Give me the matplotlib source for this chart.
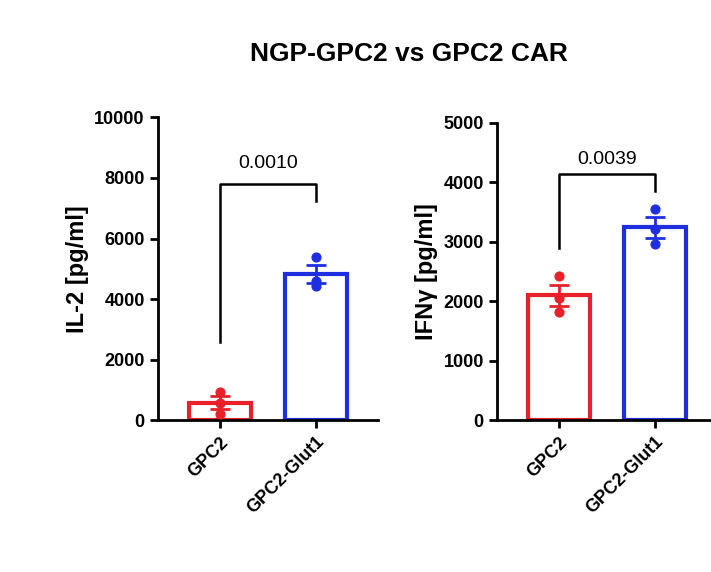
import numpy as np
import matplotlib
matplotlib.use("Agg")
import matplotlib.pyplot as plt
plt.rcParams["font.family"] = "Liberation Sans"

categories = ["GPC2", "GPC2-Glut1"]
il2_pts = [[950, 580, 220], [5400, 4600, 4450]]
ifn_pts = [[2430, 2050, 1830], [3560, 3220, 2960]]
colors = ["#e8202a", "#1f2fe0"]
title = "NGP-GPC2 vs GPC2 CAR"

fig = plt.figure(figsize=(7.11, 5.72), dpi=100)
fig.text(0.575, 0.905, title, ha="center", va="center", fontsize=19, fontweight="bold")

def panel(rect, pts, ylim, yticks, ylabel, pval, bracket, ptxt, leftend):
    ax = fig.add_axes(rect)
    x = np.arange(len(categories))
    for i, p in enumerate(pts):
        m = np.mean(p); s = np.std(p, ddof=1) / np.sqrt(len(p))
        ax.bar(x[i], m, width=0.65, facecolor="white", edgecolor=colors[i], linewidth=3, zorder=2)
        ax.errorbar(x[i], m, yerr=s, color=colors[i], capsize=7, capthick=2, elinewidth=2, zorder=3)
        ax.scatter([x[i]] * len(p), p, color=colors[i], s=40, zorder=4)
    ax.plot([0, 0, 1, 1], [leftend, bracket, bracket, bracket * 0.93], color="black", lw=1.8)
    ax.text(0.5, ptxt, pval, ha="center", va="bottom", fontsize=14)
    ax.set_xlim(-0.65, 1.65)
    ax.set_ylim(0, ylim)
    ax.set_yticks(yticks)
    ax.set_xticks(x)
    ax.set_xticklabels(categories, rotation=45, ha="right", rotation_mode="anchor", fontweight="bold", fontsize=13)
    for t in ax.get_yticklabels():
        t.set_fontweight("bold"); t.set_fontsize(13)
    ax.set_ylabel(ylabel, fontsize=17, fontweight="bold")
    for s in ["top", "right"]:
        ax.spines[s].set_visible(False)
    for s in ["left", "bottom"]:
        ax.spines[s].set_linewidth(2)
    ax.tick_params(width=2, length=6)
    return ax

panel([0.222, 0.265, 0.31, 0.53], il2_pts, 10000, [0, 2000, 4000, 6000, 8000, 10000],
      "IL-2 [pg/ml]", "0.0010", 7800, 8200, 2600)
panel([0.699, 0.265, 0.31, 0.52], ifn_pts, 5000, [0, 1000, 2000, 3000, 4000, 5000],
      "IFNγ [pg/ml]", "0.0039", 4150, 4250, 2900)

fig.savefig("out.png", dpi=100)
